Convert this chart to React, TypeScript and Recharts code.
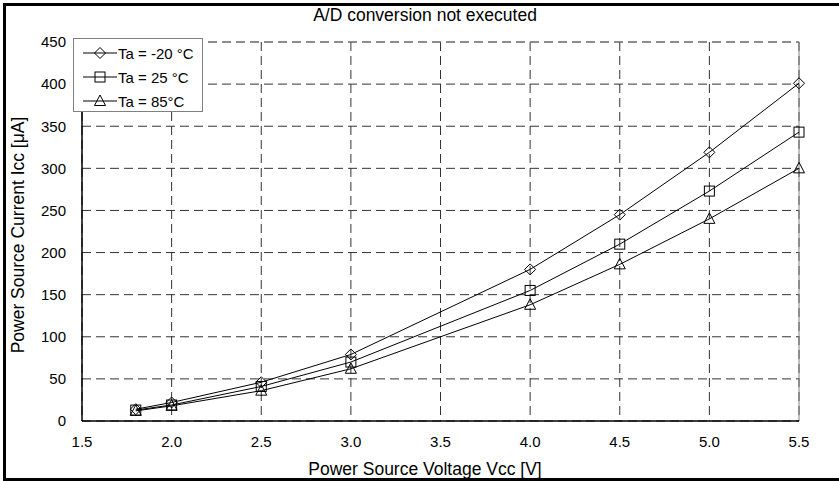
import { CartesianGrid, Line, LineChart, ReferenceLine, XAxis, YAxis } from "recharts";

const voltages = [1.8, 2.0, 2.5, 3.0, 4.0, 4.5, 5.0, 5.5];
const iccMinus20 = [14, 22, 46, 79, 180, 245, 319, 401];
const icc25 = [13, 19, 41, 70, 155, 210, 273, 343];
const icc85 = [12, 18, 36, 62, 138, 186, 240, 300];

const xTicks = [1.5, 2.0, 2.5, 3.0, 3.5, 4.0, 4.5, 5.0, 5.5];
const yTicks = [0, 50, 100, 150, 200, 250, 300, 350, 400, 450];

const seriesNames = ["Ta = -20 °C", "Ta = 25 °C", "Ta = 85°C"];

const data = voltages.map((v, i) => ({
  vcc: v,
  m20: iccMinus20[i],
  p25: icc25[i],
  p85: icc85[i],
}));

const FONT = "'Liberation Sans', Arial, sans-serif";

type MarkProps = { cx?: number; cy?: number; kind: "diamond" | "square" | "triangle" };

const Mark = ({ cx = 0, cy = 0, kind }: MarkProps) => {
  if (kind === "diamond") {
    return <path d={`M${cx},${cy - 5.5} L${cx + 5.5},${cy} L${cx},${cy + 5.5} L${cx - 5.5},${cy} Z`} fill="none" stroke="#000" />;
  }
  if (kind === "square") {
    return <rect x={cx - 5} y={cy - 5} width={10} height={10} fill="none" stroke="#000" />;
  }
  return <path d={`M${cx},${cy - 6} L${cx + 5.5},${cy + 4.5} L${cx - 5.5},${cy + 4.5} Z`} fill="none" stroke="#000" />;
};

const kinds: MarkProps["kind"][] = ["diamond", "square", "triangle"];

// legend is drawn over the chart so it takes no room from the plot
const LegendBox = () => (
  <div
    style={{
      position: "absolute",
      left: 73,
      top: 38,
      width: 130,
      height: 74,
      boxSizing: "border-box",
      border: "1px solid #808080",
      background: "#fff",
      fontFamily: FONT,
      fontSize: 15,
      paddingTop: 2,
    }}
  >
    {seriesNames.map((name, i) => (
      <div key={name} style={{ display: "flex", alignItems: "center", height: 24 }}>
        <svg width={44} height={14} style={{ marginLeft: 9 }}>
          <line x1={0} y1={7} x2={34} y2={7} stroke="#000" />
          <Mark cx={17} cy={7} kind={kinds[i]} />
        </svg>
        <span style={{ marginLeft: -9 }}>{name}</span>
      </div>
    ))}
  </div>
);

export default function App() {
  return (
    <div style={{ position: "absolute", left: 0, top: 0, width: 839, height: 481, overflow: "hidden", background: "#fff" }}>
      <div
        style={{
          position: "absolute",
          left: 3,
          top: 3,
          width: 900,
          height: 478,
          boxSizing: "border-box",
          border: "3px solid #000",
        }}
      />
      <div
        style={{
          position: "absolute",
          left: 0,
          width: 850,
          top: 5,
          textAlign: "center",
          fontFamily: FONT,
          fontSize: 17.5,
        }}
      >
        A/D conversion not executed
      </div>
      <div style={{ position: "absolute", left: 0, top: 0 }}>
        <LineChart width={839} height={481} data={data} margin={{ top: 42, right: 40, bottom: 30, left: 22 }}>
          <CartesianGrid stroke="#333" strokeDasharray="9 5" />
          <XAxis
            dataKey="vcc"
            type="number"
            domain={[1.5, 5.5]}
            ticks={xTicks}
            tickFormatter={(v: number) => v.toFixed(1)}
            height={30}
            tickLine={false}
            tickSize={6}
            tickMargin={9}
            axisLine={{ stroke: "#000", strokeWidth: 1.5 }}
            tick={{ fill: "#000", fontSize: 15, fontFamily: FONT }}
            label={{
              content: () => (
                <text x={425} y={475} textAnchor="middle" fontSize={17.5} fontFamily={FONT} fill="#000">
                  Power Source Voltage Vcc [V]
                </text>
              ),
            }}
          />
          <YAxis
            type="number"
            domain={[0, 450]}
            ticks={yTicks}
            width={60}
            tickLine={false}
            tickSize={6}
            tickMargin={10}
            axisLine={{ stroke: "#000", strokeWidth: 1.5 }}
            tick={{ fill: "#000", fontSize: 15, fontFamily: FONT }}
            label={{
              content: () => (
                <text
                  x={24}
                  y={235}
                  transform="rotate(-90 24 235)"
                  textAnchor="middle"
                  fontSize={17.5}
                  fontFamily={FONT}
                  fill="#000"
                >
                  Power Source Current Icc [μA]
                </text>
              ),
            }}
          />
          <ReferenceLine x={5.5} stroke="#808080" />
          <ReferenceLine y={450} stroke="#808080" strokeDasharray="9 5" />
          <Line
            type="linear"
            dataKey="m20"
            name={seriesNames[0]}
            stroke="#000"
            strokeWidth={1}
            isAnimationActive={false}
            dot={(p: any) => <Mark key={`d${p.index}`} cx={p.cx} cy={p.cy} kind="diamond" />}
          />
          <Line
            type="linear"
            dataKey="p25"
            name={seriesNames[1]}
            stroke="#000"
            strokeWidth={1}
            isAnimationActive={false}
            dot={(p: any) => <Mark key={`s${p.index}`} cx={p.cx} cy={p.cy} kind="square" />}
          />
          <Line
            type="linear"
            dataKey="p85"
            name={seriesNames[2]}
            stroke="#000"
            strokeWidth={1}
            isAnimationActive={false}
            dot={(p: any) => <Mark key={`t${p.index}`} cx={p.cx} cy={p.cy} kind="triangle" />}
          />
        </LineChart>
      </div>
      <LegendBox />
    </div>
  );
}
